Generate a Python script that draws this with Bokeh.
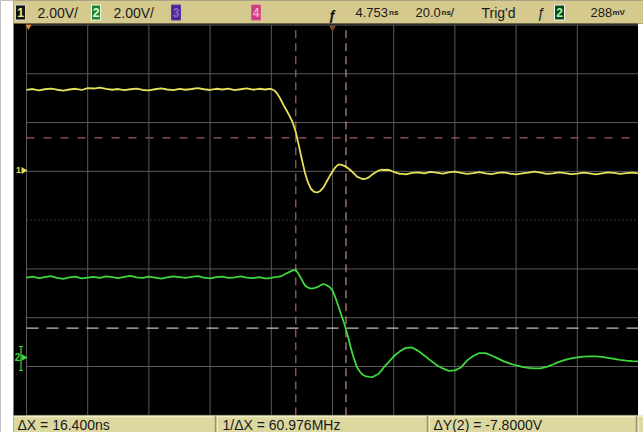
import numpy as np
from bokeh.plotting import figure
from bokeh.models import Range1d, Label
from bokeh.embed import file_html
from bokeh.resources import INLINE

# ---------------- data ----------------
# sample instants (ns) across the 10-division screen (20 ns/div)
t_ns = ([0, 2, 4, 6, 8, 10, 12, 14, 16, 18, 20, 22, 24, 26, 28, 30, 32, 34, 36, 38,
         40, 42, 44, 46, 48, 50, 52, 54, 56, 58, 60, 62, 64, 66, 68, 70, 72, 74, 76]
        + [78, 79, 80, 81, 82, 83, 84, 85, 86, 87, 88, 89, 90, 91, 92, 93, 94, 95, 96, 97,
           98, 99, 100, 101, 102, 103, 104, 105, 106, 107, 108, 109, 110, 111, 112, 113,
           114, 115, 116, 117, 118, 119, 120, 121, 122, 123, 124]
        + [126, 128, 130, 132, 134, 136, 138, 140, 142, 144, 146, 148, 150, 152, 154, 156,
           158, 160, 162, 164, 166, 168, 170, 172, 174, 176, 178, 180, 182, 184, 186, 188,
           190, 192, 194, 196, 198, 200])

# channel 1 (yellow), volts
ch1_v = ([3.30, 3.34, 3.28, 3.33, 3.36, 3.31, 3.27, 3.32, 3.35, 3.30,
          3.38, 3.36, 3.40, 3.35, 3.31, 3.34, 3.29, 3.33, 3.36, 3.30,
          3.28, 3.33, 3.37, 3.32, 3.29, 3.35, 3.31, 3.34, 3.38, 3.33,
          3.30, 3.35, 3.32, 3.36, 3.29, 3.33, 3.37, 3.31, 3.35]
         + [3.32, 3.34, 3.34, 3.28, 3.14, 2.93, 2.68, 2.46, 2.23, 1.97,
            1.58, 1.02, 0.45, -0.10, -0.49, -0.76, -0.88, -0.90, -0.84, -0.70,
            -0.47, -0.25, -0.04, 0.14, 0.25, 0.23, 0.18, 0.10, 0.00, -0.12,
            -0.25, -0.31, -0.35, -0.33, -0.27, -0.16, -0.08, -0.01, 0.03, 0.02,
            0.03, 0.00, -0.06, -0.10, -0.14, -0.14, -0.16]
         + [-0.10, -0.08, -0.12, -0.06, -0.09, -0.13, -0.08, -0.05, -0.10,
            -0.14, -0.11, -0.07, -0.12, -0.15, -0.10, -0.08, -0.13, -0.16, -0.12,
            -0.09, -0.05, -0.09, -0.14, -0.12, -0.08, -0.11, -0.15, -0.13, -0.09,
            -0.12, -0.16, -0.12, -0.08, -0.10, -0.14, -0.11, -0.09, -0.12])

# channel 2 (green), volts
ch2_v = ([3.27, 3.31, 3.25, 3.29, 3.33, 3.26, 3.22, 3.28, 3.31, 3.24,
          3.27, 3.30, 3.26, 3.32, 3.29, 3.25, 3.30, 3.34, 3.28, 3.26,
          3.31, 3.27, 3.23, 3.28, 3.32, 3.29, 3.26, 3.30, 3.33, 3.27,
          3.24, 3.29, 3.31, 3.26, 3.28, 3.32, 3.27, 3.25, 3.29]
         + [3.24, 3.24, 3.26, 3.29, 3.30, 3.32, 3.38, 3.45, 3.51, 3.57,
            3.59, 3.40, 3.18, 2.95, 2.86, 2.82, 2.84, 2.88, 2.95, 3.01,
            2.97, 2.89, 2.75, 2.44, 2.07, 1.70, 1.33, 0.88, 0.39, -0.04,
            -0.41, -0.59, -0.72, -0.78, -0.80, -0.81, -0.74, -0.68, -0.53, -0.37,
            -0.24, -0.10, 0.04, 0.15, 0.25, 0.33, 0.39]
         + [0.41, 0.27, 0.08, -0.12, -0.31, -0.45, -0.55, -0.53, -0.41, -0.12,
            0.06, 0.18, 0.18, 0.08, -0.04, -0.16, -0.25, -0.33, -0.39, -0.43,
            -0.45, -0.45, -0.39, -0.29, -0.18, -0.10, -0.04, 0.00, 0.03, 0.04,
            0.04, 0.02, -0.02, -0.06, -0.10, -0.13, -0.15, -0.16])

volts_per_div = 2.0
ch1_ground_div = 1.018
ch2_ground_div = -2.814
cursor_x_ns = [88.0, 104.4]
cursor_y_ch2_v = [9.0, 1.2]
grid_x_ns = [0, 20, 40, 60, 80, 100, 120, 140, 160, 180, 200]
grid_y_div = [-4, -3, -2, -1, 0, 1, 2, 3, 4]

top_texts = ["2.00V/", "2.00V/", "Trig'd", "ƒ"]
top_nums = ["4.753", "20.0", "/", "288"]
top_units = ["ns", "ns", "mV"]
bottom_texts = ["ΔX = 16.400ns", "1/ΔX = 60.976MHz", "ΔY(2) = -7.8000V"]
badge_digits = ["1", "2", "3", "4", "2"]

# ---------------- layout helpers (chrome only) ----------------
W, H = 643, 432
PX_NS = 612.0 / 200.0
PX_DIV = 390.3 / 8.0
YC = 219.65
FONT = "Liberation Sans"
INK = "#1a1a1a"


def dx(rx):
    return (rx - 26.0) / PX_NS


def dy(ry):
    return (YC - ry) / PX_DIV


X0, X1 = dx(0), dx(W)
YT, YB = dy(0), dy(H)

p = figure(width=W, height=H, x_range=Range1d(X0, X1), y_range=Range1d(YB, YT),
           output_backend="svg", toolbar_location=None, min_border=0,
           x_axis_location=None, y_axis_location=None)
p.grid.visible = False
p.outline_line_color = None
p.background_fill_color = "#000000"
p.border_fill_color = "#ffffff"

p.extra_y_ranges = {
    "ch1": Range1d((YB - ch1_ground_div) * volts_per_div, (YT - ch1_ground_div) * volts_per_div),
    "ch2": Range1d((YB - ch2_ground_div) * volts_per_div, (YT - ch2_ground_div) * volts_per_div),
}

# grid
for gx in grid_x_ns:
    p.segment(x0=gx, y0=-4, x1=gx, y1=4, line_color="#5a5a5a", line_width=1)
for gy in grid_y_div:
    if gy == 0:
        p.segment(x0=0, y0=gy, x1=200, y1=gy, line_color="#707070", line_width=1, line_dash="1 3")
    else:
        p.segment(x0=0, y0=gy, x1=200, y1=gy, line_color="#5a5a5a", line_width=1)

# cursors
p.segment(x0=cursor_x_ns[0], y0=-4, x1=cursor_x_ns[0], y1=4, line_color="#a8685a",
          line_width=1.2, line_dash="8 5")
p.segment(x0=cursor_x_ns[1], y0=-4, x1=cursor_x_ns[1], y1=4, line_color="#c48c82",
          line_width=1.2, line_dash="8 5")
p.segment(x0=0, y0=cursor_y_ch2_v[0], x1=200, y1=cursor_y_ch2_v[0], y_range_name="ch2",
          line_color="#9c5c62", line_width=1.2, line_dash="8 9")
p.segment(x0=0, y0=cursor_y_ch2_v[1], x1=200, y1=cursor_y_ch2_v[1], y_range_name="ch2",
          line_color="#c8bcbc", line_width=1.2, line_dash="12 8")

# traces
p.line(t_ns, ch1_v, y_range_name="ch1", line_color="#e6e05a", line_width=1.8)
p.line(t_ns, ch2_v, y_range_name="ch2", line_color="#3ed83e", line_width=1.8)

# left white margin, right white margin, top and bottom bars
p.quad(left=X0 - 1, right=dx(13), bottom=YB - 1, top=YT + 1, fill_color="#ffffff", line_color=None)
p.quad(left=dx(637.5), right=X1 + 1, bottom=YB - 1, top=dy(23), fill_color="#ffffff", line_color=None)
p.quad(left=dx(13), right=X1 + 1, bottom=dy(23), top=YT + 1, fill_color="#d5c98e", line_color=None)
p.quad(left=dx(13), right=X1 + 1, bottom=YB - 1, top=dy(415), fill_color="#dcd8a0", line_color=None)
p.segment(x0=dx(13), y0=dy(416), x1=X1 + 1, y1=dy(416), line_color="#f2eec8", line_width=1.5)
for sx in [215, 427, 636]:
    p.segment(x0=dx(sx), y0=YB, x1=dx(sx), y1=dy(415), line_color="#9a9468", line_width=1.5)
    p.segment(x0=dx(sx + 2), y0=YB, x1=dx(sx + 2), y1=dy(415), line_color="#f0ecc4", line_width=1)

# badges in the top bar
ymid = dy(12)
badge_pos = [(15, 25), (91, 100), (171, 180), (251, 260), (554, 564)]
badge_fill = ["#141414", "#1f7f34", "#4a2890", "#c83c7c", "#0c4a1c"]
badge_text = ["#f2ea80", "#d8ffd8", "#8a6ac8", "#f6a8cc", "#a8f4a8"]
badge_line = ["#d8d8d8", "#e0ffe0", "#5a38a8", "#d85a92", "#f4f4f4"]
for (l, r), d, fc, tc, lc in zip(badge_pos, badge_digits, badge_fill, badge_text, badge_line):
    p.quad(left=dx(l), right=dx(r), bottom=dy(19.5), top=dy(4.5),
           fill_color=fc, line_color=lc, line_width=1)
    p.add_layout(Label(x=dx((l + r) / 2.0), y=ymid, text=d, text_font=FONT,
                       text_font_size="12px", text_font_style="bold", text_color=tc,
                       text_align="center", text_baseline="middle"))

for rx, txt in zip([37, 113, 481, 537], top_texts):
    p.add_layout(Label(x=dx(rx), y=ymid, text=txt, text_font=FONT, text_font_size="14px",
                       text_color=INK, text_align="left", text_baseline="middle"))
for rx, txt in zip([355, 415, 450, 590], top_nums):
    p.add_layout(Label(x=dx(rx), y=ymid, text=txt, text_font=FONT, text_font_size="13px",
                       text_color=INK, text_align="left", text_baseline="middle"))
for rx, txt in zip([388.5, 441, 612], top_units):
    p.add_layout(Label(x=dx(rx), y=ymid, text=txt, text_font=FONT, text_font_size="8px",
                       text_font_style="bold", text_color=INK, text_align="left",
                       text_baseline="middle"))

# trigger-delay marker at screen centre
p.add_layout(Label(x=dx(332), y=dy(14), text="ƒ", text_font=FONT, text_font_size="14px",
                   text_font_style="bold", text_color="#101010", text_align="center",
                   text_baseline="middle"))
p.scatter(x=[100], y=[dy(27)], marker="inverted_triangle", size=7, fill_color="#7a4a30",
          line_color=None)
p.scatter(x=[dx(28)], y=[dy(26)], marker="inverted_triangle", size=6, fill_color="#e8902c",
          line_color=None)

# ground markers
p.scatter(x=[dx(23)], y=[ch1_ground_div], marker="triangle", angle=-np.pi / 2, size=7,
          fill_color="#e6e05a", line_color=None)
p.add_layout(Label(x=dx(18), y=ch1_ground_div, text="1", text_font=FONT, text_font_size="9px",
                   text_font_style="bold", text_color="#e6e05a", text_align="center",
                   text_baseline="middle"))
p.scatter(x=[dx(23)], y=[ch2_ground_div], marker="triangle", angle=-np.pi / 2, size=7,
          fill_color="#3ed83e", line_color=None)
p.add_layout(Label(x=dx(17), y=ch2_ground_div, text="2", text_font=FONT, text_font_size="10px",
                   text_font_style="bold", text_color="#3ed83e", text_align="center",
                   text_baseline="middle"))
p.segment(x0=dx(20.5), y0=dy(346), x1=dx(20.5), y1=dy(370), line_color="#3ed83e", line_width=1.2)
p.segment(x0=dx(18.5), y0=dy(346), x1=dx(22.5), y1=dy(346), line_color="#3ed83e", line_width=1.2)
p.segment(x0=dx(18.5), y0=dy(370), x1=dx(22.5), y1=dy(370), line_color="#3ed83e", line_width=1.2)

# bottom measurement bar
ybot = dy(424)
for rx, txt in zip([17, 222, 433], bottom_texts):
    p.add_layout(Label(x=dx(rx), y=ybot, text=txt, text_font=FONT, text_font_size="14px",
                       text_color=INK, text_align="left", text_baseline="middle"))

open("out.html", "w").write(file_html(p, INLINE))
